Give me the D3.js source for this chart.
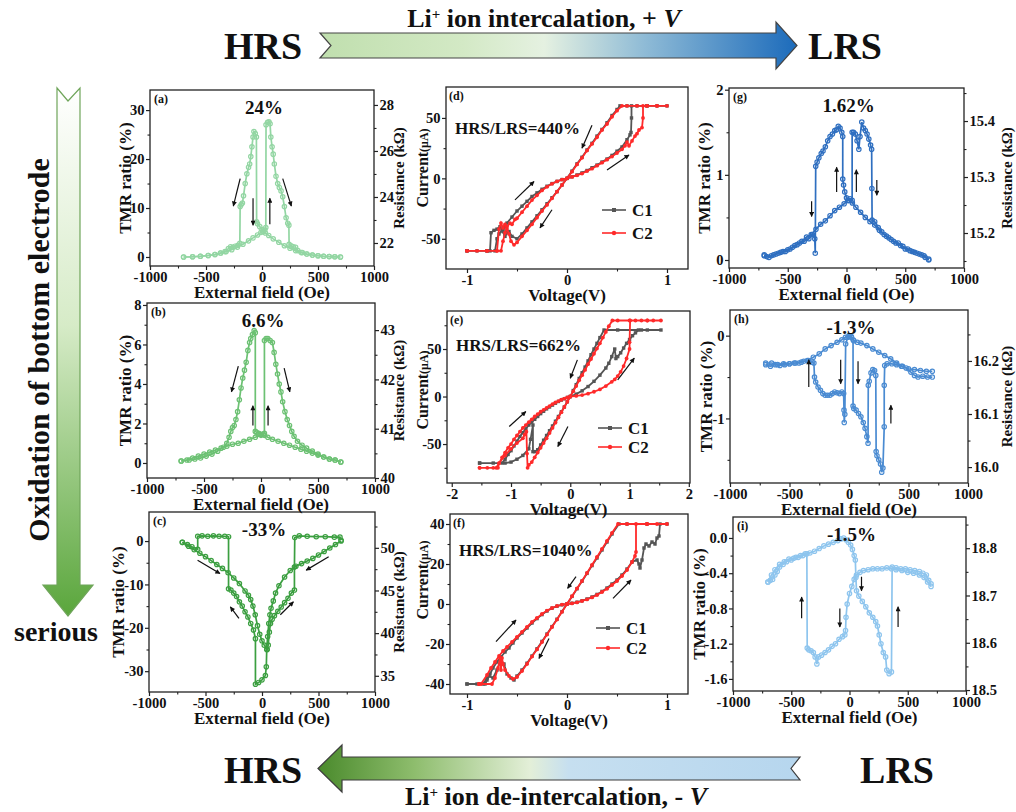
<!DOCTYPE html>
<html><head><meta charset="utf-8">
<script src="https://cdn.jsdelivr.net/npm/d3@7"></script>
<style>
body{margin:0;background:#fff}
text{font-family:"Liberation Serif","Times New Roman",serif;font-weight:bold;fill:#111}
</style>
</head><body><script>
// ================= DATA =================
const fieldTicks=[-1000,-500,0,500,1000];
const fieldMinor=[-750,-250,250,750];

// (a)
const a_tmrTicks=[0,10,20,30], a_tmrMinor=[5,15,25], a_resTicks=[22,24,26,28], a_resMinor=[23,25,27];
const a_sweepDown=[[700,0],[650,0.05],[600,0.1],[550,0.15],[500,0.25],[450,0.4],[400,0.6],[350,0.9],[300,1.3],[250,1.8],[200,2.3],[150,3.0],[100,3.7],[60,4.4],[30,4.9],[10,5.2],[0,5.6],[-20,6.2],[-40,6.8],[-48,7.2],[-50,24.5],[-60,25.2],[-72,25.6],[-80,24.5],[-90,22.5],[-100,20.5],[-110,19],[-120,18.3],[-135,17],[-150,15],[-165,12.5],[-175,11],[-185,10.7],[-195,10.3],[-198,2.8],[-215,2.4],[-240,2.2],[-260,2.0],[-280,2.1],[-300,1.7],[-330,1.1],[-370,0.8],[-420,0.5],[-480,0.3],[-550,0.15],[-620,0.05],[-700,0]];
const a_sweepUp=[[-700,0],[-620,0.05],[-550,0.15],[-480,0.3],[-420,0.5],[-370,0.8],[-320,1.1],[-270,1.5],[-220,2.0],[-170,2.6],[-120,3.3],[-80,3.9],[-40,4.5],[-10,5.0],[10,5.3],[25,5.5],[34,6.0],[36,27.0],[50,27.5],[62,27.6],[72,27.2],[79,24.5],[90,22.5],[100,21],[110,19],[125,16.5],[140,15],[155,14.2],[170,13.5],[185,12.3],[200,10.3],[215,8],[230,6.9],[240,6.5],[242,2.6],[260,2.3],[280,2.1],[300,2.0],[320,1.3],[360,0.9],[400,0.6],[450,0.4],[500,0.25],[550,0.15],[600,0.08],[650,0.04],[700,0]];
const a_arrows=[[-195,16,-256,10.4],[-80,12,-80,6.5],[70,6.7,70,12],[185,16,262,10.4]];

// (b)
const b_tmrTicks=[0,2,4,6,8], b_tmrMinor=[1,3,5,7], b_resTicks=[40,41,42,43], b_resMinor=[40.5,41.5,42.5];
const b_sweepDown=[[700,0.05],[650,0.15],[600,0.2],[550,0.3],[500,0.4],[450,0.5],[400,0.6],[350,0.7],[300,0.8],[250,0.9],[200,1.0],[150,1.1],[100,1.2],[60,1.3],[30,1.4],[0,1.45],[-20,1.5],[-40,1.55],[-50,1.6],[-50,6.6],[-60,6.7],[-75,6.5],[-90,6.3],[-100,6.1],[-115,5.7],[-130,5.1],[-145,4.7],[-160,4.3],[-175,3.8],[-190,3.2],[-205,2.6],[-220,2.2],[-235,1.9],[-250,1.8],[-265,1.6],[-280,1.3],[-300,1.0],[-330,0.8],[-380,0.6],[-430,0.45],[-480,0.35],[-530,0.25],[-580,0.2],[-630,0.15],[-700,0.1]];
const b_sweepUp=[[-700,0.1],[-650,0.15],[-600,0.25],[-550,0.35],[-500,0.45],[-450,0.55],[-400,0.65],[-350,0.75],[-300,0.85],[-250,0.95],[-200,1.0],[-150,1.1],[-100,1.2],[-50,1.3],[0,1.4],[20,1.45],[30,1.5],[30,6.2],[45,6.3],[60,6.3],[80,6.2],[100,6.1],[115,5.6],[130,5.0],[145,4.5],[160,4.0],[175,3.6],[190,3.1],[210,2.6],[230,2.2],[250,1.9],[270,1.6],[290,1.35],[320,1.1],[360,0.9],[400,0.75],[450,0.6],[500,0.45],[550,0.3],[600,0.2],[650,0.15],[700,0.05]];
const b_arrows=[[-199,4.9,-259,3.6],[-71,1.9,-71,2.9],[62,1.9,62,2.9],[203,4.8,253,3.6]];

// (c)
const c_tmrTicks=[0,-10,-20,-30], c_tmrMinor=[-5,-15,-25], c_resTicks=[35,40,45,50], c_resMinor=[37.5,42.5,47.5,52.5];
const c_sweepDown=[[700,0],[650,-0.8],[600,-1.6],[550,-2.4],[500,-3.2],[450,-4],[400,-4.6],[350,-5.2],[300,-5.8],[250,-6.8],[200,-8.3],[150,-10.3],[120,-12],[100,-13.8],[80,-15.5],[70,-17],[60,-19],[50,-22],[42,-25],[38,-29],[30,-31],[0,-32],[-30,-32.6],[-58,-33],[-58,-22.5],[-75,-20.5],[-100,-19],[-125,-17.5],[-150,-16.3],[-175,-15],[-200,-14],[-225,-12.8],[-250,-12],[-275,-11.3],[-296,-11],[-296,1],[-330,1.1],[-380,1.1],[-430,1.2],[-480,1.1],[-530,1.2],[-569,1.1],[-569,-1.9],[-620,-1.3],[-660,-0.8],[-705,-0.3]];
const c_sweepUp=[[-705,-0.3],[-650,-1.2],[-600,-2],[-550,-2.8],[-500,-3.6],[-450,-4.5],[-400,-5.4],[-350,-6.3],[-300,-7.3],[-250,-8.5],[-200,-9.8],[-150,-11.5],[-120,-12.5],[-100,-13.5],[-80,-15],[-60,-17],[-40,-19.5],[-20,-21.5],[0,-23],[20,-24],[46,-25],[55,-24],[65,-21],[75,-19],[90,-18],[110,-17.2],[140,-16.2],[170,-15.2],[200,-14.2],[230,-13.2],[260,-12],[287,-11.3],[287,-6],[290,0.8],[330,1.2],[400,1.1],[480,1],[560,1],[640,0.9],[690,0.9],[700,0.2]];
const c_arrows=[[-570,-4.4,-372,-7.5],[-204,-17.8,-280,-15.2],[162,-17,278,-14],[590,-3.6,391,-6.7]];

// (d)
const d_vTicks=[-1,0,1], d_vMinor=[-0.5,0.5], d_iTicks=[-50,0,50], d_iMinor=[-25,25];
const d_C1=[[-1.0,-60],[-0.9,-60],[-0.8,-60],[-0.77,-60],[-0.76,-45],[-0.73,-43],[-0.7,-42],[-0.67,-40],[-0.64,-44],[-0.62,-40],[-0.6,-37],[-0.55,-32],[-0.5,-27],[-0.45,-23],[-0.4,-19],[-0.35,-15],[-0.3,-12],[-0.25,-9],[-0.2,-6.5],[-0.15,-4.3],[-0.1,-2.5],[-0.05,-1],[0,0],[0.05,1.3],[0.1,2.8],[0.15,4.5],[0.2,6.5],[0.25,8.8],[0.3,11],[0.35,13.5],[0.4,16],[0.45,19],[0.5,22.5],[0.55,26],[0.6,32],[0.63,36],[0.64,38],[0.645,50],[0.645,60],[0.7,60],[0.8,60],[0.9,60],[1.0,60],[0.8,60],[0.6,60],[0.53,60],[0.5,57],[0.45,52],[0.4,46],[0.35,40.5],[0.3,35],[0.25,29],[0.2,23.5],[0.15,17.5],[0.1,12],[0.05,6],[0,0],[-0.05,-5.5],[-0.1,-11],[-0.15,-16],[-0.2,-21],[-0.25,-26],[-0.3,-31],[-0.35,-36],[-0.4,-41],[-0.45,-46],[-0.5,-50],[-0.55,-48],[-0.58,-44],[-0.6,-45],[-0.62,-48],[-0.65,-43],[-0.68,-46],[-0.7,-50],[-0.72,-60],[-0.8,-60],[-1.0,-60]];
const d_C2=[[-1.0,-60],[-0.9,-60],[-0.8,-60],[-0.7,-60],[-0.66,-60],[-0.64,-52],[-0.62,-45],[-0.6,-40],[-0.57,-37],[-0.55,-38],[-0.52,-34],[-0.5,-33],[-0.45,-28],[-0.4,-23],[-0.35,-18],[-0.3,-14],[-0.25,-10],[-0.2,-7],[-0.15,-4.5],[-0.1,-2.5],[-0.05,-1],[0,0],[0.05,1.2],[0.1,2.5],[0.15,4],[0.2,6],[0.25,8],[0.3,10.5],[0.35,13],[0.4,15.5],[0.45,18],[0.5,21],[0.55,24],[0.58,27],[0.6,30],[0.62,27],[0.65,31],[0.68,35],[0.7,37],[0.72,40],[0.75,42],[0.76,50],[0.76,60],[0.8,60],[0.9,60],[1.0,60],[0.9,60],[0.8,60],[0.7,60],[0.6,60],[0.55,60],[0.5,56],[0.45,51],[0.4,45],[0.35,40],[0.3,34],[0.25,28.5],[0.2,23],[0.15,17],[0.1,11.5],[0.05,5.5],[0,0],[-0.05,-5.5],[-0.1,-11],[-0.15,-16.5],[-0.2,-22],[-0.25,-27],[-0.3,-32.5],[-0.35,-38],[-0.4,-43],[-0.45,-48],[-0.5,-53],[-0.53,-55],[-0.56,-52],[-0.58,-46],[-0.6,-42],[-0.62,-38],[-0.64,-41],[-0.66,-37],[-0.68,-42],[-0.7,-60],[-0.8,-60],[-1.0,-60]];
const d_arrows=[[0.25,44,0.15,25],[0.4,7,0.62,19.4],[-0.52,-17.8,-0.33,-2.6],[-0.15,-26,-0.27,-41]];

// (e)
const e_vTicks=[-2,-1,0,1,2], e_vMinor=[-1.5,-0.5,0.5,1.5], e_iTicks=[-50,0,50], e_iMinor=[-75,-25,25,75];
const e_C1=[[-1.53,-70],[-1.3,-70],[-1.15,-70],[-1.1,-66],[-1.05,-61],[-1.0,-57],[-0.95,-52],[-0.9,-47],[-0.85,-42],[-0.8,-38],[-0.75,-34],[-0.7,-30],[-0.65,-27],[-0.6,-24],[-0.55,-21],[-0.5,-18],[-0.45,-15.5],[-0.4,-13],[-0.35,-11],[-0.3,-9],[-0.25,-7],[-0.2,-5.2],[-0.15,-3.7],[-0.1,-2.3],[-0.05,-1],[0,0],[0.1,2.5],[0.2,6],[0.3,10.5],[0.4,16],[0.5,22.5],[0.6,30],[0.65,35],[0.7,42],[0.75,50],[0.77,40],[0.8,42],[0.85,46],[0.9,51],[0.95,56],[1.0,60],[1.05,64],[1.1,67],[1.15,70],[1.3,70],[1.53,70],[1.2,70],[0.8,70],[0.57,70],[0.5,62],[0.45,56],[0.4,50],[0.35,44],[0.3,37.5],[0.25,31],[0.2,25],[0.15,19],[0.1,12.5],[0.05,6.3],[0,0],[-0.05,-5.5],[-0.1,-11],[-0.15,-16],[-0.2,-21],[-0.25,-26],[-0.3,-31],[-0.35,-36],[-0.4,-41],[-0.45,-46],[-0.5,-51],[-0.55,-56],[-0.6,-58],[-0.63,-58],[-0.63,-30],[-0.67,-45],[-0.7,-55],[-0.8,-62],[-0.9,-66],[-1.0,-69],[-1.1,-70],[-1.53,-70]];
const e_C2=[[-1.53,-75],[-1.4,-75],[-1.3,-75],[-1.22,-75],[-1.2,-70],[-1.15,-64],[-1.1,-59],[-1.05,-54],[-1.0,-50],[-0.95,-45],[-0.9,-41],[-0.85,-37],[-0.8,-33],[-0.75,-30],[-0.7,-27],[-0.65,-24],[-0.6,-21],[-0.55,-18.5],[-0.5,-16],[-0.45,-14],[-0.4,-12],[-0.35,-10],[-0.3,-8],[-0.25,-6.3],[-0.2,-4.8],[-0.15,-3.4],[-0.1,-2.2],[-0.05,-1],[0,0],[0.1,0.6],[0.2,1.5],[0.3,3],[0.4,5],[0.5,7.5],[0.6,11],[0.7,15.5],[0.75,18],[0.8,21.5],[0.85,26],[0.9,32],[0.95,40],[1.0,50],[1.0,57],[1.01,80],[1.1,80],[1.2,80],[1.3,80],[1.4,80],[1.53,80],[1.3,80],[1.0,80],[0.8,80],[0.71,80],[0.65,74],[0.6,68],[0.55,62],[0.5,56],[0.45,50.5],[0.4,45],[0.35,39.5],[0.3,34],[0.25,28],[0.2,22.5],[0.15,17],[0.1,11],[0.05,5.5],[0,0],[-0.05,-5.5],[-0.1,-11],[-0.15,-16.5],[-0.2,-22],[-0.25,-27.5],[-0.3,-33],[-0.35,-38.5],[-0.4,-44],[-0.45,-49],[-0.5,-54],[-0.55,-59],[-0.6,-64],[-0.65,-69],[-0.7,-72],[-0.72,-75],[-0.73,-60],[-0.74,-37],[-0.77,-40],[-0.8,-44],[-0.9,-49],[-1.0,-55],[-1.1,-62],[-1.2,-70],[-1.25,-75],[-1.53,-75]];
const e_arrows=[[0.12,38.6,0,19.3],[0.8,17.6,1.08,40.4],[-1.03,-31.6,-0.75,-15.8],[-0.04,-31.6,-0.21,-52.6]];

// (f)
const f_vTicks=[-1,0,1], f_vMinor=[-0.5,0.5], f_iTicks=[-40,-20,0,20,40], f_iMinor=[-30,-10,10,30];
const f_C1=[[-1.0,-40],[-0.9,-40],[-0.84,-40],[-0.8,-37],[-0.77,-35],[-0.74,-32],[-0.7,-29],[-0.66,-26.5],[-0.62,-24],[-0.58,-22],[-0.54,-19.5],[-0.5,-17],[-0.45,-14.5],[-0.4,-12],[-0.35,-9.5],[-0.3,-7.3],[-0.25,-5.3],[-0.2,-3.5],[-0.15,-2.1],[-0.1,-1.1],[-0.05,-0.4],[0,0],[0.05,0.4],[0.1,0.9],[0.15,1.6],[0.2,2.5],[0.25,3.5],[0.3,4.8],[0.35,6.3],[0.4,8],[0.45,10],[0.5,12],[0.55,14.5],[0.6,17.5],[0.65,21],[0.7,22],[0.72,20],[0.73,18],[0.75,22],[0.77,28],[0.79,30],[0.82,29],[0.85,31],[0.88,30],[0.9,33],[0.92,34],[0.93,40],[1.0,40],[0.8,40],[0.6,40],[0.52,40],[0.45,35],[0.4,31],[0.35,27],[0.3,23],[0.25,19.2],[0.2,15.3],[0.15,11.4],[0.1,7.6],[0.05,3.8],[0,0],[-0.05,-3.8],[-0.1,-7.6],[-0.15,-11.3],[-0.2,-15],[-0.25,-18.7],[-0.3,-22.4],[-0.35,-26],[-0.4,-29.6],[-0.45,-33],[-0.5,-36],[-0.53,-38],[-0.56,-37],[-0.6,-35],[-0.63,-30],[-0.66,-28],[-0.7,-33],[-0.74,-37],[-0.78,-36],[-0.8,-38],[-0.82,-40],[-1.0,-40]];
const f_C2=[[-0.88,-40],[-0.86,-40],[-0.8,-35.5],[-0.76,-32],[-0.72,-29],[-0.68,-26],[-0.64,-23.5],[-0.6,-21.5],[-0.55,-19],[-0.5,-16.5],[-0.45,-14],[-0.4,-11.5],[-0.35,-9],[-0.3,-7],[-0.25,-5],[-0.2,-3.3],[-0.15,-2],[-0.1,-1],[-0.05,-0.3],[0,0],[0.05,0.3],[0.1,0.8],[0.15,1.5],[0.2,2.3],[0.25,3.3],[0.3,4.5],[0.35,6],[0.4,7.6],[0.45,9.5],[0.5,11.5],[0.55,14],[0.6,17],[0.65,21],[0.68,24],[0.69,26],[0.69,40],[0.8,40],[0.9,40],[1.0,40],[0.8,40],[0.6,40],[0.51,40],[0.45,35.5],[0.4,31.5],[0.35,27.5],[0.3,23.5],[0.25,19.5],[0.2,15.5],[0.15,11.5],[0.1,7.8],[0.05,3.9],[0,0],[-0.05,-3.9],[-0.1,-7.8],[-0.15,-11.5],[-0.2,-15.3],[-0.25,-19],[-0.3,-22.7],[-0.35,-26.3],[-0.4,-30],[-0.45,-33.5],[-0.5,-36.5],[-0.54,-37.5],[-0.58,-36],[-0.62,-33],[-0.64,-30],[-0.65,-27],[-0.66,-33],[-0.67,-27],[-0.69,-32],[-0.72,-37],[-0.75,-40],[-0.88,-40]];
const f_arrows=[[0.09,13.7,0.006,7.8],[0.46,2.8,0.64,12],[-0.71,-18.8,-0.51,-8],[-0.18,-17.2,-0.28,-27.2]];

// (g)
const g_tmrTicks=[0,1,2], g_tmrMinor=[0.5,1.5], g_resTicks=[15.2,15.3,15.4], g_resMinor=[15.15,15.25,15.35,15.45];
const g_sweepDown=[[700,0],[670,0.03],[640,0.06],[600,0.08],[560,0.1],[520,0.13],[480,0.16],[440,0.2],[400,0.22],[360,0.26],[320,0.3],[280,0.35],[240,0.41],[200,0.45],[160,0.5],[120,0.56],[80,0.62],[50,0.67],[20,0.7],[0,0.73],[-15,0.8],[-25,0.88],[-32,0.95],[-32,1.45],[-40,1.5],[-55,1.55],[-70,1.57],[-85,1.53],[-100,1.52],[-120,1.48],[-140,1.45],[-160,1.4],[-180,1.33],[-200,1.28],[-215,1.25],[-235,1.2],[-250,1.15],[-262,1.1],[-266,0.08],[-270,0.25],[-290,0.3],[-320,0.25],[-360,0.22],[-400,0.2],[-440,0.17],[-480,0.13],[-520,0.1],[-560,0.09],[-600,0.07],[-640,0.05],[-680,0.04],[-700,0.05]];
const g_sweepUp=[[-700,0.06],[-660,0.03],[-620,0.06],[-580,0.08],[-540,0.1],[-500,0.12],[-460,0.15],[-420,0.18],[-380,0.22],[-340,0.27],[-300,0.3],[-260,0.36],[-220,0.42],[-180,0.46],[-140,0.52],[-100,0.58],[-60,0.62],[-20,0.66],[10,0.7],[30,0.72],[48,0.7],[48,1.5],[60,1.5],[75,1.48],[90,1.4],[105,1.3],[115,1.45],[130,1.62],[145,1.55],[160,1.52],[175,1.48],[190,1.42],[205,1.35],[214,1.3],[216,0.84],[218,0.47],[240,0.45],[270,0.38],[300,0.33],[340,0.28],[380,0.24],[420,0.2],[460,0.17],[500,0.13],[540,0.11],[580,0.09],[620,0.07],[660,0.05],[700,0.01]];
const g_arrows=[[-297,0.69,-297,0.51],[-84,0.8,-84,1.09],[84,0.8,84,1.06],[258,0.94,258,0.76]];

// (h)
const h_tmrTicks=[0,-1], h_tmrMinor=[-0.5,-1.5], h_resTicks=[16.0,16.1,16.2], h_resMinor=[16.05,16.15,16.25];
const h_sweepUp=[[-700,-0.35],[-660,-0.37],[-620,-0.35],[-580,-0.36],[-540,-0.35],[-500,-0.34],[-460,-0.33],[-420,-0.33],[-380,-0.31],[-340,-0.3],[-310,-0.32],[-295,-0.33],[-290,-0.5],[-280,-0.56],[-260,-0.62],[-240,-0.66],[-220,-0.7],[-200,-0.72],[-180,-0.72],[-160,-0.72],[-140,-0.7],[-120,-0.68],[-100,-0.69],[-80,-0.7],[-60,-0.68],[-45,-0.7],[-42,-0.9],[-40,-1.05],[-35,-0.95],[-28,-0.1],[-10,-0.02],[0,0],[20,-0.01],[40,-0.06],[70,-0.08],[100,-0.09],[150,-0.12],[200,-0.16],[250,-0.2],[300,-0.24],[350,-0.28],[400,-0.33],[450,-0.37],[500,-0.4],[550,-0.41],[600,-0.42],[650,-0.43],[700,-0.43]];
const h_sweepDown=[[700,-0.5],[660,-0.5],[620,-0.49],[580,-0.5],[550,-0.48],[520,-0.44],[480,-0.39],[440,-0.37],[400,-0.35],[360,-0.34],[320,-0.34],[300,-0.36],[296,-0.6],[296,-1.1],[285,-1.6],[275,-1.65],[265,-1.55],[250,-1.5],[235,-1.45],[228,-1.4],[225,-0.48],[215,-0.42],[200,-0.41],[185,-0.45],[170,-0.55],[162,-0.6],[160,-1.3],[150,-1.22],[135,-1.12],[120,-1.05],[100,-0.98],[80,-0.94],[60,-0.9],[40,-0.88],[34,-0.85],[34,-0.05],[20,-0.02],[0,-0.01],[-30,-0.02],[-60,-0.05],[-100,-0.08],[-150,-0.12],[-200,-0.16],[-250,-0.22],[-300,-0.26],[-350,-0.3],[-400,-0.32],[-450,-0.33],[-500,-0.34],[-550,-0.34],[-600,-0.35],[-650,-0.33],[-700,-0.33]];
const h_arrows=[[-338,-0.62,-338,-0.29],[-70,-0.29,-70,-0.58],[76,-0.31,76,-0.58],[352,-1.06,352,-0.84]];

// (i)
const i_tmrTicks=[0,-0.4,-0.8,-1.2,-1.6], i_tmrMinor=[-0.2,-0.6,-1.0,-1.4], i_resTicks=[18.5,18.6,18.7,18.8], i_resMinor=[18.55,18.65,18.75,18.85];
const i_sweepUp=[[-700,-0.5],[-680,-0.48],[-660,-0.47],[-640,-0.42],[-620,-0.38],[-600,-0.33],[-570,-0.3],[-540,-0.27],[-500,-0.25],[-460,-0.22],[-420,-0.2],[-380,-0.18],[-340,-0.17],[-300,-0.15],[-260,-0.12],[-220,-0.09],[-180,-0.07],[-140,-0.05],[-100,-0.03],[-70,-0.01],[-50,0],[-30,-0.02],[-10,-0.05],[10,-0.08],[25,-0.13],[40,-0.2],[50,-0.25],[55,-0.45],[60,-0.6],[80,-0.66],[110,-0.72],[140,-0.78],[170,-0.85],[200,-0.9],[225,-0.95],[240,-1.0],[255,-1.1],[270,-1.2],[290,-1.3],[310,-1.35],[320,-1.5],[340,-1.54],[360,-1.52],[366,-0.33],[400,-0.36],[450,-0.37],[500,-0.39],[550,-0.4],[600,-0.42],[640,-0.45],[670,-0.5],[700,-0.55]];
const i_sweepDown=[[700,-0.52],[680,-0.48],[660,-0.42],[630,-0.4],[600,-0.38],[560,-0.37],[520,-0.36],[480,-0.35],[440,-0.35],[400,-0.34],[360,-0.35],[320,-0.34],[280,-0.35],[240,-0.35],[200,-0.35],[160,-0.36],[120,-0.37],[90,-0.39],[60,-0.42],[40,-0.47],[20,-0.55],[0,-0.63],[-20,-0.75],[-30,-0.9],[-34,-1.05],[-40,-1.1],[-60,-1.12],[-90,-1.15],[-120,-1.2],[-150,-1.23],[-180,-1.27],[-210,-1.3],[-240,-1.33],[-265,-1.35],[-280,-1.43],[-295,-1.35],[-310,-1.3],[-330,-1.28],[-350,-1.27],[-363,-1.25],[-366,-0.18],[-400,-0.2],[-440,-0.22],[-480,-0.23],[-520,-0.24],[-560,-0.27],[-600,-0.3],[-640,-0.36],[-670,-0.42],[-700,-0.5]];
const i_arrows=[[-411,-0.91,-411,-0.67],[-83,-0.8,-83,-1.01],[103,-0.44,103,-0.6],[417,-1.01,417,-0.78]];

// ================= DRAWING =================
const svg=d3.select('body').append('svg').attr('width',1016).attr('height',812).style('display','block');
const defs=svg.append('defs');
defs.append('marker').attr('id','ah').attr('viewBox','0 0 10 10').attr('refX',9).attr('refY',5)
  .attr('markerWidth',6).attr('markerHeight',5).attr('markerUnits','userSpaceOnUse').attr('orient','auto')
  .append('path').attr('d','M0,0L10,5L0,10z').attr('fill','#111');

function grad(id,vertical,stops){
  const g=defs.append('linearGradient').attr('id',id).attr('x1',0).attr('y1',0).attr('x2',vertical?0:1).attr('y2',vertical?1:0);
  stops.forEach(s=>g.append('stop').attr('offset',s[0]).attr('stop-color',s[1]));
}
grad('gTop',false,[[0,'#c0dfae'],[0.3,'#d3e9c5'],[0.47,'#e5f1e1'],[0.68,'#8fbbd6'],[1,'#1c6bbb']]);
grad('gLeft',true,[[0,'#ffffff'],[0.45,'#d6ebc7'],[1,'#5aa63c']]);
grad('gBot',false,[[0,'#4a8a2c'],[0.2,'#8ebd6d'],[0.44,'#e3efd8'],[0.52,'#c6dff0'],[1,'#b6d6ee']]);

function txt(s,x,y,size,anchor,rot){
  const t=svg.append('text').attr('x',x).attr('y',y).attr('text-anchor',anchor||'middle').style('font-size',size+'px').text(s);
  if(rot) t.attr('transform',`rotate(${rot},${x},${y})`);
  return t;
}

function axis(g,make,scale,pos,major,minor,fmt,fs){
  const a=g.append('g').attr('transform',pos).call(make(scale).tickValues(major).tickSize(4).tickPadding(1.5).tickFormat(fmt));
  a.select('.domain').remove();
  a.selectAll('line').attr('stroke','#222').attr('stroke-width',1.2);
  a.selectAll('text').style('font-size',(fs||14.5)+'px').attr('fill','#111');
  if(minor){
    const b=g.append('g').attr('transform',pos).call(make(scale).tickValues(minor).tickSize(2.5).tickFormat(''));
    b.select('.domain').remove();
    b.selectAll('line').attr('stroke','#222').attr('stroke-width',1.1);
  }
}

function panel(L){
  const g=svg.append('g');
  const x=d3.scaleLinear().domain(L.xd).range([L.x0,L.x1]);
  const y=d3.scaleLinear().domain(L.yd).range([L.y1,L.y0]);
  g.append('rect').attr('x',L.x0).attr('y',L.y0).attr('width',L.x1-L.x0).attr('height',L.y1-L.y0).attr('fill','#fff');
  return {g,x,y,L};
}
function finish(P,T){
  const {g,x,y,L}=P;
  g.append('rect').attr('x',L.x0).attr('y',L.y0).attr('width',L.x1-L.x0).attr('height',L.y1-L.y0).attr('fill','none').attr('stroke','#222').attr('stroke-width',1.3);
  axis(g,d3.axisBottom,x,`translate(0,${L.y1})`,T.xt,T.xm,T.xf);
  axis(g,d3.axisLeft,y,`translate(${L.x0},0)`,T.yt,T.ym,T.yf);
  if(T.rt){
    const r=d3.scaleLinear().domain(L.rd).range([L.y1,L.y0]);
    axis(g,d3.axisRight,r,`translate(${L.x1},0)`,T.rt,T.rm,T.rf);
  }
}
function tmr(P,data,color){
  P.g.append('path').datum(data).attr('d',d3.line().x(d=>P.x(d[0])).y(d=>P.y(d[1])))
    .attr('fill','none').attr('stroke',color).attr('stroke-width',1.7);
  P.g.append('g').selectAll('circle').data(data).join('circle')
    .attr('cx',d=>P.x(d[0])).attr('cy',d=>P.y(d[1])).attr('r',2.2)
    .attr('fill','none').attr('stroke',color).attr('stroke-width',1.2);
}
function iv(P,data,color,shape){
  P.g.append('path').datum(data).attr('d',d3.line().x(d=>P.x(d[0])).y(d=>P.y(d[1])))
    .attr('fill','none').attr('stroke',color).attr('stroke-width',1.8);
  const m=P.g.append('g');
  if(shape==='sq') m.selectAll('rect').data(data).join('rect').attr('x',d=>P.x(d[0])-1.7).attr('y',d=>P.y(d[1])-1.7).attr('width',3.4).attr('height',3.4).attr('fill',color);
  else m.selectAll('circle').data(data).join('circle').attr('cx',d=>P.x(d[0])).attr('cy',d=>P.y(d[1])).attr('r',1.9).attr('fill',color);
}
function arrows(P,list){
  P.g.append('g').selectAll('line').data(list).join('line')
    .attr('x1',d=>P.x(d[0])).attr('y1',d=>P.y(d[1])).attr('x2',d=>P.x(d[2])).attr('y2',d=>P.y(d[3]))
    .attr('stroke','#111').attr('stroke-width',1.2).attr('marker-end','url(#ah)');
}
function legend(x0,yy,color,shape,label){
  svg.append('line').attr('x1',x0).attr('x2',x0+24).attr('y1',yy).attr('y2',yy).attr('stroke',color).attr('stroke-width',1.6);
  if(shape==='sq') svg.append('rect').attr('x',x0+12-2).attr('y',yy-2).attr('width',4).attr('height',4).attr('fill',color);
  else svg.append('circle').attr('cx',x0+12).attr('cy',yy).attr('r',2.2).attr('fill',color);
  txt(label,x0+30,yy+6,17,'start');
}

const fmtInt=d=>String(d), fmt1=d=>d.toFixed(1);
const TMRC={a:'#93d6a3',b:'#6cc173',c:'#3b9f40',g:'#2f6fc0',h:'#4a8bd2',i:'#8ec5ee'};
const C1='#555555', C2='#ff2a2a';

// ---- layout ----
const LA={x0:150,x1:374,y0:90,y1:266,xd:[-1000,1000],yd:[-1.84,34.1],rd:[21.0,28.65]};
const LB={x0:147,x1:375,y0:303,y1:478,xd:[-1000,1000],yd:[-0.76,8.1],rd:[40,43.55]};
const LC={x0:149,x1:375,y0:512,y1:692,xd:[-1000,1000],yd:[-34.8,6.7],rd:[33.1,54.2]};
const LD={x0:446,x1:688,y0:87,y1:269,xd:[-1.21,1.21],yd:[-75,75.6]};
const LE={x0:447,x1:690,y0:311,y1:483,xd:[-2.08,2.02],yd:[-91,90]};
const LF={x0:450,x1:688,y0:514,y1:694,xd:[-1.17,1.21],yd:[-45,45]};
const LG={x0:729,x1:964,y0:88,y1:268,xd:[-1000,1000],yd:[-0.094,2.02],rd:[15.1375,15.459]};
const LH={x0:730,x1:968,y0:310,y1:483,xd:[-1000,1000],yd:[-1.78,0.31],rd:[15.97,16.296]};
const LI={x0:733,x1:966,y0:517,y1:691,xd:[-1000,1000],yd:[-1.737,0.238],rd:[18.498,18.866]};

function tmrPanel(L,down,up,arr,color,T){
  const P=panel(L); tmr(P,down,color); tmr(P,up,color); arrows(P,arr); finish(P,T); return P;
}
function ivPanel(L,c1,c2,arr,T){
  const P=panel(L); iv(P,c1,C1,'sq'); iv(P,c2,C2,'ci'); arrows(P,arr); finish(P,T); return P;
}

tmrPanel(LA,a_sweepDown,a_sweepUp,a_arrows,TMRC.a,{xt:fieldTicks,xm:fieldMinor,xf:fmtInt,yt:a_tmrTicks,ym:a_tmrMinor,yf:fmtInt,rt:a_resTicks,rm:a_resMinor,rf:fmtInt});
tmrPanel(LB,b_sweepDown,b_sweepUp,b_arrows,TMRC.b,{xt:fieldTicks,xm:fieldMinor,xf:fmtInt,yt:b_tmrTicks,ym:b_tmrMinor,yf:fmtInt,rt:b_resTicks,rm:b_resMinor,rf:fmtInt});
tmrPanel(LC,c_sweepDown,c_sweepUp,c_arrows,TMRC.c,{xt:fieldTicks,xm:fieldMinor,xf:fmtInt,yt:c_tmrTicks,ym:c_tmrMinor,yf:fmtInt,rt:c_resTicks,rm:c_resMinor,rf:fmtInt});

ivPanel(LD,d_C1,d_C2,d_arrows,{xt:d_vTicks,xm:d_vMinor,xf:fmtInt,yt:d_iTicks,ym:d_iMinor,yf:fmtInt});
ivPanel(LE,e_C1,e_C2,e_arrows,{xt:e_vTicks,xm:e_vMinor,xf:fmtInt,yt:e_iTicks,ym:e_iMinor,yf:fmtInt});
ivPanel(LF,f_C1,f_C2,f_arrows,{xt:f_vTicks,xm:f_vMinor,xf:fmtInt,yt:f_iTicks,ym:f_iMinor,yf:fmtInt});

tmrPanel(LG,g_sweepDown,g_sweepUp,g_arrows,TMRC.g,{xt:fieldTicks,xm:fieldMinor,xf:fmtInt,yt:g_tmrTicks,ym:g_tmrMinor,yf:fmtInt,rt:g_resTicks,rm:g_resMinor,rf:fmt1});
tmrPanel(LH,h_sweepDown,h_sweepUp,h_arrows,TMRC.h,{xt:fieldTicks,xm:fieldMinor,xf:fmtInt,yt:h_tmrTicks,ym:h_tmrMinor,yf:fmtInt,rt:h_resTicks,rm:h_resMinor,rf:fmt1});
tmrPanel(LI,i_sweepDown,i_sweepUp,i_arrows,TMRC.i,{xt:fieldTicks,xm:fieldMinor,xf:fmtInt,yt:i_tmrTicks,ym:i_tmrMinor,yf:fmt1,rt:i_resTicks,rm:i_resMinor,rf:fmt1});

// ---- panel texts ----
const tmrPanels=[[LA,'(a)','24%',125,399],[LB,'(b)','6.6%',125,399],[LC,'(c)','-33%',118,399],[LG,'(g)','1.62%',704,1007],[LH,'(h)','-1.3%',706,1007],[LI,'(i)','-1.5%',699,null]];
tmrPanels.forEach(([L,lab,pct,tx,rx])=>{
  const cx=(L.x0+L.x1)/2, cy=(L.y0+L.y1)/2;
  txt(lab,L.x0+4,L.y0+13,12,'start');
  txt(pct,cx+2,L.y0+24,19);
  txt('TMR ratio (%)',tx,cy,17,'middle',-90).attr('dy','0.35em');
  if(rx) txt('Resistance (k\u03A9)',rx,cy,15,'middle',-90).attr('dy','0.35em');
  txt('External field (Oe)',cx,L.y1+32,17);
});
const ivPanels=[[LD,'(d)','HRS/LRS=440%',134,168,[602,210,233]],[LE,'(e)','HRS/LRS=662%',351,390,[598,428,447]],[LF,'(f)','HRS/LRS=1040%',556,580,[596,628,648]]];
ivPanels.forEach(([L,lab,ratio,ry,cury,lg])=>{
  const cx=(L.x0+L.x1)/2;
  txt(lab,L.x0+3,L.y0+13,12,'start');
  txt(ratio,L.x0+9,ry,17,'start');
  const t=svg.append('text').attr('transform',`translate(422,${cury}) rotate(-90)`).attr('text-anchor','middle').attr('dy','0.35em').style('font-size','16px');
  t.append('tspan').text('Current');
  t.append('tspan').style('font-size','12px').text('(\u03BCA)');
  txt('Voltage(V)',cx,L.y1+32,17);
  legend(lg[0],lg[1],C1,'sq','C1');
  legend(lg[0],lg[2],C2,'ci','C2');
});

// ---- big arrows & captions ----
svg.append('polygon').attr('points','320,33 776,33 776,22 797,45.5 776,69 776,58 320,58 331,45.5')
  .attr('fill','url(#gTop)').attr('stroke','#444').attr('stroke-width',1.2);
svg.append('polygon').attr('points','57,88 68,101 80,88 80,585 93,585 68,616 43,585 57,585')
  .attr('fill','url(#gLeft)').attr('stroke','#6fa55a').attr('stroke-width',1.2);
svg.append('polygon').attr('points','318,768.5 342,745 342,757 800,757 791,768.5 800,780 342,780 342,792')
  .attr('fill','url(#gBot)').attr('stroke','#3c3c3c').attr('stroke-width',1.2);

txt('HRS',263,59,38); txt('LRS',845,59,38);
txt('HRS',263,783,38); txt('LRS',897,783,38);

function caption(x,y,pre){
  const t=svg.append('text').attr('x',x).attr('y',y).attr('text-anchor','middle').style('font-size','26px');
  t.append('tspan').text('Li');
  t.append('tspan').attr('baseline-shift','super').style('font-size','15px').text('+');
  t.append('tspan').text(pre);
  t.append('tspan').style('font-style','italic').text('V');
}
caption(544,27,' ion intercalation, + ');
caption(556,805,' ion de-intercalation, - ');

txt('Oxidation of bottom electrode',38,350,30,'middle',-90).attr('dy','0.35em');
txt('serious',56,641,28);
</script></body></html>
